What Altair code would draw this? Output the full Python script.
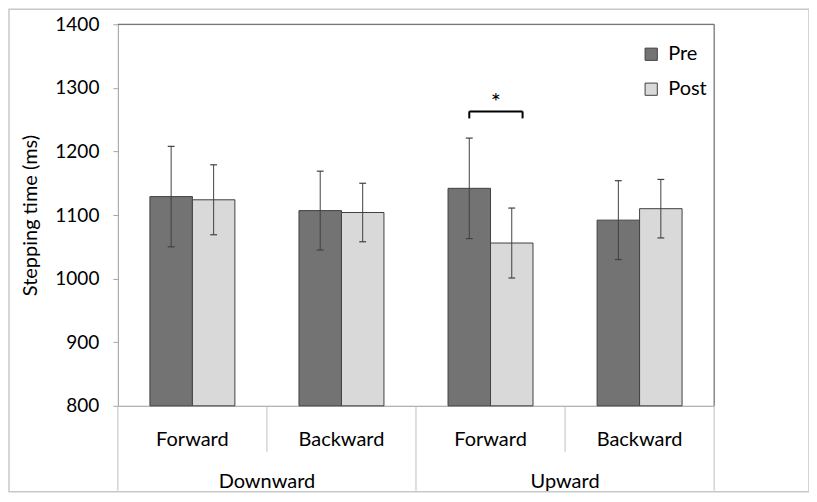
import altair as alt
import pandas as pd

# ---- data ----
directions = ["Downward", "Downward", "Upward", "Upward"]
movements = ["Forward", "Backward", "Forward", "Backward"]
phases = ["Pre", "Post"]
pre_mean = [1129, 1107, 1142, 1092]
pre_err = [79, 62, 79, 62]
post_mean = [1124, 1104, 1056, 1110]
post_err = [55, 46, 55, 46]
y_ticks = [800, 900, 1000, 1100, 1200, 1300, 1400]
sig_slot = [2]          # Upward / Forward
sig_text = ["*"]
sig_level = [1263]      # bracket height (ms)
sig_leg = [1252]        # bracket leg end (ms)

rows = []
for i in range(len(movements)):
    for ph, m, e in (("Pre", pre_mean[i], pre_err[i]), ("Post", post_mean[i], post_err[i])):
        rows.append({"slot": i, "direction": directions[i], "movement": movements[i],
                     "phase": ph, "mean": m, "err": e})
df = pd.DataFrame(rows)
slots = pd.DataFrame({"slot": list(range(len(movements))), "movement": movements, "direction": directions})
dirs = slots.groupby("direction", sort=False)["slot"].agg(["min", "max"]).reset_index()
bounds = pd.DataFrame({"b": list(range(len(movements) + 1))})
bounds["outer"] = [b == 0 or b == len(movements) or directions[b] != directions[b - 1] for b in bounds["b"]]
sig = pd.DataFrame({"slot": sig_slot, "text": sig_text, "lvl": sig_level, "leg": sig_leg})

W, H = 597, 382
FONT = "Lato"
GRAY_AX = "#a6a6a6"
DARK = "#404040"

xs = alt.Scale(domain=[0, len(movements)], nice=False, zero=False)
ys = alt.Scale(domain=[800, 1400], nice=False, zero=False)
AX = alt.Axis(labels=False, ticks=False, grid=False, title=None, domainColor=GRAY_AX)
AY = alt.Axis(values=y_ticks, format="d", tickSize=5, tickColor=GRAY_AX, domainColor=GRAY_AX,
              labelFontSize=19, labelFont=FONT, labelColor="black", labelPadding=14,
              title="Stepping time (ms)", titleFontSize=20, titleFont=FONT,
              titleFontWeight="normal", titleColor="black", titlePadding=14, grid=False)

bars_base = alt.Chart(df).transform_calculate(
    x0="datum.slot + 0.5 + (datum.phase == 'Pre' ? -0.285 : 0)"
).transform_calculate(
    x1="datum.x0 + 0.285",
    xc="datum.x0 + 0.1425",
    c0="datum.x0 + 0.1425 - 0.023",
    c1="datum.x0 + 0.1425 + 0.023",
    lo="datum.mean - datum.err",
    hi="datum.mean + datum.err",
)

bars = bars_base.mark_bar(stroke=DARK, strokeWidth=1).encode(
    x=alt.X("x0:Q", scale=xs, axis=AX),
    x2="x1:Q",
    y=alt.Y("mean:Q", scale=ys, axis=AY),
    y2=alt.datum(800),
    fill=alt.Fill("phase:N", scale=alt.Scale(domain=phases, range=["#737373", "#d9d9d9"]),
                  legend=alt.Legend(title=None, orient="none", legendX=524, legendY=20,
                                    symbolType="square", symbolSize=150,
                                    symbolStrokeColor=DARK, symbolStrokeWidth=1,
                                    labelFontSize=20, labelFont=FONT, labelColor="black",
                                    labelOffset=7, rowPadding=15, padding=0)),
)

err = bars_base.mark_rule(color=DARK, strokeWidth=1).encode(
    x=alt.X("xc:Q", scale=xs, axis=AX),
    y=alt.Y("lo:Q", scale=ys, axis=AY),
    y2="hi:Q",
)
cap_hi = bars_base.mark_rule(color=DARK, strokeWidth=1.2).encode(
    x=alt.X("c0:Q", scale=xs, axis=AX), x2="c1:Q",
    y=alt.Y("hi:Q", scale=ys, axis=AY),
)
cap_lo = bars_base.mark_rule(color=DARK, strokeWidth=1.2).encode(
    x=alt.X("c0:Q", scale=xs, axis=AX), x2="c1:Q",
    y=alt.Y("lo:Q", scale=ys, axis=AY),
)

# significance bracket
sig_base = alt.Chart(sig).transform_calculate(
    bl="datum.slot + 0.5 - 0.1425",
    br="datum.slot + 0.5 + 0.215",
    bm="datum.slot + 0.5 + 0.036",
)
br_h = sig_base.mark_rule(color="black", strokeWidth=2).encode(
    x=alt.X("bl:Q", scale=xs, axis=AX), x2="br:Q",
    y=alt.Y("lvl:Q", scale=ys, axis=AY),
)
br_l = sig_base.mark_rule(color="black", strokeWidth=2).encode(
    x=alt.X("bl:Q", scale=xs, axis=AX),
    y=alt.Y("lvl:Q", scale=ys, axis=AY), y2="leg:Q",
)
br_r = sig_base.mark_rule(color="black", strokeWidth=2).encode(
    x=alt.X("br:Q", scale=xs, axis=AX),
    y=alt.Y("lvl:Q", scale=ys, axis=AY), y2="leg:Q",
)
star = sig_base.transform_calculate(ty="datum.lvl + 13").mark_text(
    fontSize=24, font=FONT, color="black", baseline="middle"
).encode(
    x=alt.X("bm:Q", scale=xs, axis=AX),
    y=alt.Y("ty:Q", scale=ys, axis=AY),
    text="text:N",
)

# plot frame (top and right)
one = pd.DataFrame({"k": [0]})
frame_top = alt.Chart(one).mark_rule(color="#595959", strokeWidth=1).encode(
    x=alt.value(0), x2=alt.value(W), y=alt.value(0))
frame_right = alt.Chart(one).mark_rule(color="#595959", strokeWidth=1).encode(
    x=alt.value(W), y=alt.value(0), y2=alt.value(H))
outer = alt.Chart(one).mark_rect(fillOpacity=0, stroke="#c8c8c8", strokeWidth=1.5).encode(
    x=alt.value(-109), x2=alt.value(692), y=alt.value(-15), y2=alt.value(H + 86))

# two-level category axis below the plot
sep_inner = alt.Chart(bounds).transform_filter("!datum.outer").mark_rule(
    color="#bfbfbf", strokeWidth=1).encode(
    x=alt.X("b:Q", scale=xs, axis=AX), y=alt.value(H), y2=alt.value(H + 46))
sep_outer = alt.Chart(bounds).transform_filter("datum.outer").mark_rule(
    color="#bfbfbf", strokeWidth=1).encode(
    x=alt.X("b:Q", scale=xs, axis=AX), y=alt.value(H), y2=alt.value(H + 85))
mov_text = alt.Chart(slots).transform_calculate(xm="datum.slot + 0.5").mark_text(
    fontSize=20, font=FONT, color="black", baseline="alphabetic").encode(
    x=alt.X("xm:Q", scale=xs, axis=AX), y=alt.value(H + 40), text="movement:N")
dir_text = alt.Chart(dirs).transform_calculate(xm="(datum.min + datum.max + 1) / 2").mark_text(
    fontSize=20, font=FONT, color="black", baseline="alphabetic").encode(
    x=alt.X("xm:Q", scale=xs, axis=AX), y=alt.value(H + 82), text="direction:N")

chart = alt.layer(
    outer, bars, err, cap_hi, cap_lo, br_h, br_l, br_r, star,
    frame_top, frame_right, sep_inner, sep_outer, mov_text, dir_text
).properties(
    width=W, height=H, autosize="none",
    padding={"left": 110, "top": 16, "right": 95, "bottom": 88},
).configure_view(stroke=None).configure(background="white")

chart.save("out.html", embed_options={"renderer": "svg", "actions": False})
